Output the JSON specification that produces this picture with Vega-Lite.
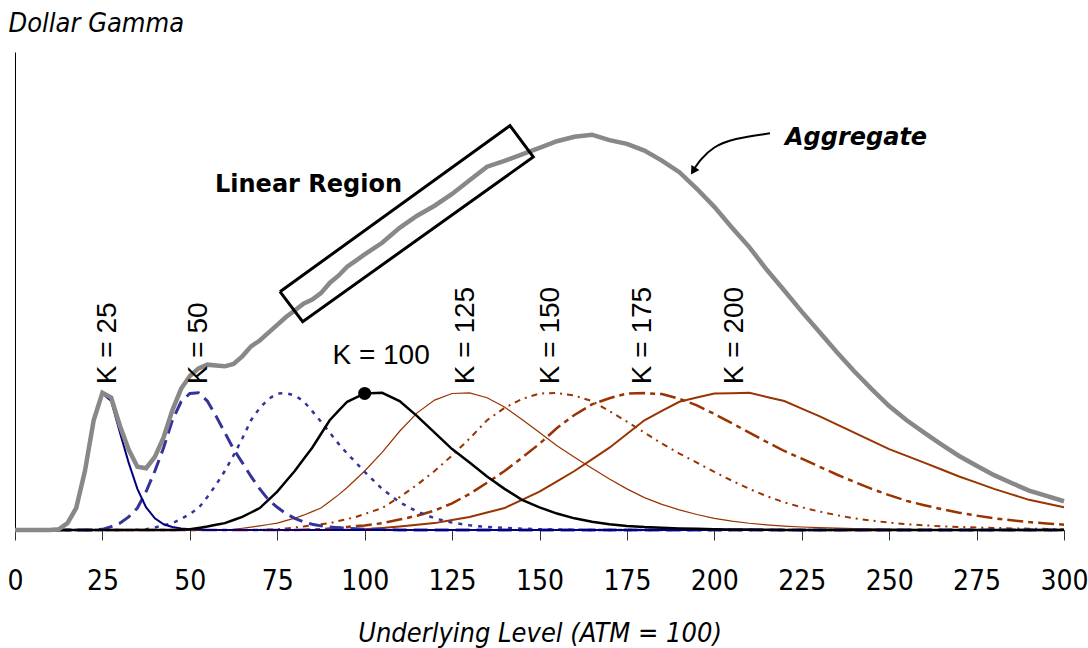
{
  "$schema": "https://vega.github.io/schema/vega-lite/v6.json",
  "width": 1049,
  "height": 478,
  "autosize": {"type": "none"},
  "padding": {"left": 15, "top": 52, "right": 24, "bottom": 118},
  "background": "white",
  "config": {"view": {"stroke": null}},
  "datasets": {
    "curves": [
      {"S":0,"K25":0,"K50":0,"K75":0,"K100":0,"K125":0,"K150":0,"K175":0,"K200":0,"Agg":0},
      {"S":2.5,"K25":0,"K50":0,"K75":0,"K100":0,"K125":0,"K150":0,"K175":0,"K200":0,"Agg":0},
      {"S":5,"K25":0,"K50":0,"K75":0,"K100":0,"K125":0,"K150":0,"K175":0,"K200":0,"Agg":0},
      {"S":7.5,"K25":0,"K50":0,"K75":0,"K100":0,"K125":0,"K150":0,"K175":0,"K200":0,"Agg":0},
      {"S":10,"K25":0,"K50":0,"K75":0,"K100":0,"K125":0,"K150":0,"K175":0,"K200":0,"Agg":0},
      {"S":12.5,"K25":0.14,"K50":0,"K75":0,"K100":0,"K125":0,"K150":0,"K175":0,"K200":0,"Agg":0.14},
      {"S":15,"K25":1.44,"K50":0,"K75":0,"K100":0,"K125":0,"K150":0,"K175":0,"K200":0,"Agg":1.44},
      {"S":17.5,"K25":4.59,"K50":0,"K75":0,"K100":0,"K125":0,"K150":0,"K175":0,"K200":0,"Agg":4.59},
      {"S":20,"K25":12.34,"K50":0,"K75":0,"K100":0,"K125":0,"K150":0,"K175":0,"K200":0,"Agg":12.34},
      {"S":22.5,"K25":22.96,"K50":0,"K75":0,"K100":0,"K125":0,"K150":0,"K175":0,"K200":0,"Agg":22.96},
      {"S":25,"K25":28.56,"K50":0.14,"K75":0,"K100":0,"K125":0,"K150":0,"K175":0,"K200":0,"Agg":28.7},
      {"S":27.5,"K25":26.98,"K50":0.72,"K75":0,"K100":0,"K125":0,"K150":0,"K175":0,"K200":0,"Agg":27.7},
      {"S":30,"K25":20.38,"K50":1.44,"K75":0,"K100":0,"K125":0,"K150":0,"K175":0,"K200":0,"Agg":21.82},
      {"S":32.5,"K25":14.1,"K50":2.73,"K75":0,"K100":0,"K125":0,"K150":0,"K175":0,"K200":0,"Agg":16.83},
      {"S":35,"K25":8.6,"K50":4.59,"K75":0.05,"K100":0,"K125":0,"K150":0,"K175":0,"K200":0,"Agg":13.24},
      {"S":37.5,"K25":4.74,"K50":8.04,"K75":0.14,"K100":0,"K125":0,"K150":0,"K175":0,"K200":0,"Agg":12.92},
      {"S":40,"K25":2.44,"K50":12.34,"K75":0.53,"K100":0,"K125":0,"K150":0,"K175":0,"K200":0,"Agg":15.31},
      {"S":42.5,"K25":1.21,"K50":17.22,"K75":0.96,"K100":0,"K125":0,"K150":0,"K175":0,"K200":0,"Agg":19.39},
      {"S":45,"K25":0.63,"K50":22.96,"K75":1.44,"K100":0,"K125":0,"K150":0,"K175":0,"K200":0,"Agg":25.03},
      {"S":47.5,"K25":0.34,"K50":26.83,"K75":2.3,"K100":0.07,"K125":0,"K150":0,"K175":0,"K200":0,"Agg":29.54},
      {"S":50,"K25":0.17,"K50":28.56,"K75":3.35,"K100":0.14,"K125":0,"K150":0,"K175":0,"K200":0,"Agg":32.22},
      {"S":52.5,"K25":0.09,"K50":28.7,"K75":4.59,"K100":0.43,"K125":0,"K150":0,"K175":0,"K200":0,"Agg":33.81},
      {"S":55,"K25":0,"K50":26.98,"K75":6.89,"K100":0.72,"K125":0,"K150":0,"K175":0,"K200":0,"Agg":34.59},
      {"S":57.5,"K25":0,"K50":23.82,"K75":9.47,"K100":1.08,"K125":0.03,"K150":0,"K175":0,"K200":0,"Agg":34.4},
      {"S":60,"K25":0,"K50":20.38,"K75":12.34,"K100":1.44,"K125":0.08,"K150":0,"K175":0,"K200":0,"Agg":34.24},
      {"S":62.5,"K25":0,"K50":16.93,"K75":15.59,"K100":2.09,"K125":0.14,"K150":0,"K175":0,"K200":0,"Agg":34.75},
      {"S":65,"K25":0,"K50":14.1,"K75":19.13,"K100":2.73,"K125":0.37,"K150":0,"K175":0,"K200":0,"Agg":36.33},
      {"S":67.5,"K25":0,"K50":11.2,"K75":22.96,"K100":3.66,"K125":0.6,"K150":0,"K175":0,"K200":0,"Agg":38.42},
      {"S":70,"K25":0,"K50":8.6,"K75":25.54,"K100":4.59,"K125":0.86,"K150":0.05,"K175":0,"K200":0,"Agg":39.64},
      {"S":72.5,"K25":0,"K50":6.31,"K75":27.41,"K100":6.32,"K125":1.15,"K150":0.09,"K175":0,"K200":0,"Agg":41.28},
      {"S":75,"K25":0,"K50":4.74,"K75":28.56,"K100":8.04,"K125":1.44,"K150":0.14,"K175":0,"K200":0,"Agg":42.92},
      {"S":77.5,"K25":0,"K50":3.44,"K75":28.65,"K100":10.19,"K125":1.96,"K150":0.33,"K175":0,"K200":0,"Agg":44.57},
      {"S":80,"K25":0,"K50":2.44,"K75":28.13,"K100":12.34,"K125":2.47,"K150":0.53,"K175":0.02,"K200":0,"Agg":45.93},
      {"S":82.5,"K25":0,"K50":1.72,"K75":26.98,"K100":14.78,"K125":3.1,"K150":0.72,"K175":0.06,"K200":0,"Agg":47.36},
      {"S":85,"K25":0,"K50":1.21,"K75":24.87,"K100":17.22,"K125":3.84,"K150":0.96,"K175":0.1,"K200":0,"Agg":48.2},
      {"S":87.5,"K25":0,"K50":0.86,"K75":22.67,"K100":20.09,"K125":4.59,"K150":1.2,"K175":0.14,"K200":0,"Agg":49.55},
      {"S":90,"K25":0,"K50":0.63,"K75":20.38,"K100":22.96,"K125":5.97,"K150":1.44,"K175":0.31,"K200":0,"Agg":51.69},
      {"S":92.5,"K25":0,"K50":0.49,"K75":18.08,"K100":24.9,"K125":7.35,"K150":1.87,"K175":0.47,"K200":0.04,"Agg":53.2},
      {"S":95,"K25":0,"K50":0.34,"K75":15.99,"K100":26.83,"K125":8.9,"K150":2.3,"K175":0.64,"K200":0.07,"Agg":55.07},
      {"S":97.5,"K25":0,"K50":0.26,"K75":14.1,"K100":27.7,"K125":10.62,"K150":2.73,"K175":0.82,"K200":0.11,"Agg":56.34},
      {"S":100,"K25":0,"K50":0.17,"K75":12.17,"K100":28.56,"K125":12.34,"K150":3.35,"K175":0.93,"K200":0.14,"Agg":57.66},
      {"S":105,"K25":0,"K50":0.09,"K75":8.6,"K100":28.7,"K125":16.24,"K150":4.59,"K175":1.44,"K200":0.43,"Agg":60.09},
      {"S":110,"K25":0,"K50":0,"K75":5.79,"K100":26.98,"K125":20.66,"K150":6.89,"K175":2.18,"K200":0.72,"Agg":63.22},
      {"S":115,"K25":0,"K50":0,"K75":3.87,"K100":23.82,"K125":24.51,"K150":9.47,"K175":2.99,"K200":1.08,"Agg":65.74},
      {"S":120,"K25":0,"K50":0,"K75":2.44,"K100":20.38,"K125":27.18,"K150":12.34,"K175":4.06,"K200":1.44,"Agg":67.84},
      {"S":125,"K25":0,"K50":0,"K75":1.55,"K100":16.93,"K125":28.56,"K150":15.59,"K175":5.58,"K200":2.09,"Agg":70.3},
      {"S":130,"K25":0,"K50":0,"K75":0.98,"K100":14.1,"K125":28.67,"K150":19.13,"K175":7.55,"K200":2.73,"Agg":73.16},
      {"S":135,"K25":0,"K50":0,"K75":0.63,"K100":11.2,"K125":27.67,"K150":22.96,"K175":9.88,"K200":3.66,"Agg":76},
      {"S":140,"K25":0,"K50":0,"K75":0.44,"K100":8.6,"K125":25.72,"K150":25.54,"K175":12.34,"K200":4.59,"Agg":77.23},
      {"S":145,"K25":0,"K50":0,"K75":0.28,"K100":6.31,"K125":23.13,"K150":27.41,"K175":15.13,"K200":6.32,"Agg":78.58},
      {"S":150,"K25":0,"K50":0,"K75":0.17,"K100":4.74,"K125":20.38,"K150":28.56,"K175":18.04,"K200":8.04,"Agg":79.93},
      {"S":155,"K25":0,"K50":0,"K75":0.11,"K100":3.44,"K125":17.62,"K150":28.65,"K175":21.32,"K200":10.19,"Agg":81.33},
      {"S":160,"K25":0,"K50":0,"K75":0.06,"K100":2.44,"K125":15.23,"K150":28.13,"K175":24.07,"K200":12.34,"Agg":82.27},
      {"S":165,"K25":0,"K50":0,"K75":0,"K100":1.72,"K125":12.94,"K150":26.98,"K175":26.28,"K200":14.78,"Agg":82.7},
      {"S":170,"K25":0,"K50":0,"K75":0,"K100":1.21,"K125":10.68,"K150":24.87,"K175":27.57,"K200":17.22,"Agg":81.55},
      {"S":175,"K25":0,"K50":0,"K75":0,"K100":0.86,"K125":8.6,"K150":22.67,"K175":28.56,"K200":20.09,"Agg":80.78},
      {"S":180,"K25":0,"K50":0,"K75":0,"K100":0.63,"K125":6.77,"K150":20.38,"K175":28.64,"K200":22.96,"Agg":79.38},
      {"S":185,"K25":0,"K50":0,"K75":0,"K100":0.49,"K125":5.37,"K150":18.08,"K175":28.45,"K200":24.9,"Agg":77.29},
      {"S":190,"K25":0,"K50":0,"K75":0,"K100":0.34,"K125":4.22,"K150":15.99,"K175":27.47,"K200":26.83,"Agg":74.85},
      {"S":195,"K25":0,"K50":0,"K75":0,"K100":0.26,"K125":3.24,"K150":14.1,"K175":26.08,"K200":27.7,"Agg":71.38},
      {"S":200,"K25":0,"K50":0,"K75":0,"K100":0.17,"K125":2.44,"K150":12.17,"K175":24.27,"K200":28.56,"Agg":67.61},
      {"S":205,"K25":0,"K50":0,"K75":0,"K100":0.13,"K125":1.86,"K150":10.33,"K175":22.34,"K200":28.63,"Agg":63.29},
      {"S":210,"K25":0,"K50":0,"K75":0,"K100":0.09,"K125":1.41,"K150":8.6,"K175":20.38,"K200":28.7,"Agg":59.18},
      {"S":215,"K25":0,"K50":0,"K75":0,"K100":0.04,"K125":1.07,"K150":7.07,"K175":18.41,"K200":27.84,"Agg":54.43},
      {"S":220,"K25":0,"K50":0,"K75":0,"K100":0,"K125":0.81,"K150":5.79,"K175":16.53,"K200":26.98,"Agg":50.11},
      {"S":225,"K25":0,"K50":0,"K75":0,"K100":0,"K125":0.63,"K150":4.74,"K175":14.91,"K200":25.4,"Agg":45.68},
      {"S":230,"K25":0,"K50":0,"K75":0,"K100":0,"K125":0.51,"K150":3.87,"K175":13.27,"K200":23.82,"Agg":41.47},
      {"S":235,"K25":0,"K50":0,"K75":0,"K100":0,"K125":0.4,"K150":3.11,"K175":11.61,"K200":22.1,"Agg":37.22},
      {"S":240,"K25":0,"K50":0,"K75":0,"K100":0,"K125":0.31,"K150":2.44,"K175":10.08,"K200":20.38,"Agg":33.21},
      {"S":245,"K25":0,"K50":0,"K75":0,"K100":0,"K125":0.24,"K150":1.96,"K175":8.6,"K200":18.66,"Agg":29.46},
      {"S":250,"K25":0,"K50":0,"K75":0,"K100":0,"K125":0.17,"K150":1.55,"K175":7.29,"K200":16.93,"Agg":25.94},
      {"S":255,"K25":0,"K50":0,"K75":0,"K100":0,"K125":0.14,"K150":1.21,"K175":6.09,"K200":15.52,"Agg":22.96},
      {"S":260,"K25":0,"K50":0,"K75":0,"K100":0,"K125":0.1,"K150":0.98,"K175":5.19,"K200":14.1,"Agg":20.37},
      {"S":265,"K25":0,"K50":0,"K75":0,"K100":0,"K125":0.07,"K150":0.78,"K175":4.37,"K200":12.65,"Agg":17.87},
      {"S":270,"K25":0,"K50":0,"K75":0,"K100":0,"K125":0.03,"K150":0.63,"K175":3.63,"K200":11.2,"Agg":15.49},
      {"S":275,"K25":0,"K50":0,"K75":0,"K100":0,"K125":0,"K150":0.53,"K175":3.01,"K200":9.9,"Agg":13.44},
      {"S":280,"K25":0,"K50":0,"K75":0,"K100":0,"K125":0,"K150":0.44,"K175":2.44,"K200":8.6,"Agg":11.48},
      {"S":285,"K25":0,"K50":0,"K75":0,"K100":0,"K125":0,"K150":0.34,"K175":2.03,"K200":7.46,"Agg":9.83},
      {"S":290,"K25":0,"K50":0,"K75":0,"K100":0,"K125":0,"K150":0.28,"K175":1.65,"K200":6.31,"Agg":8.24},
      {"S":295,"K25":0,"K50":0,"K75":0,"K100":0,"K125":0,"K150":0.23,"K175":1.36,"K200":5.53,"Agg":7.12},
      {"S":300,"K25":0,"K50":0,"K75":0,"K100":0,"K125":0,"K150":0.17,"K175":1.11,"K200":4.74,"Agg":6.02}
    ],
    "box": [
      {"order":1,"S":75.78,"v":49.85},
      {"order":2,"S":82.27,"v":43.58},
      {"order":3,"S":148.22,"v":78.05},
      {"order":4,"S":141.55,"v":84.59},
      {"order":5,"S":75.78,"v":49.85}
    ],
    "arrow": [
      {"order":1,"S":215.9,"v":83.0},
      {"order":2,"S":205.4,"v":81.9},
      {"order":3,"S":199.7,"v":80.2},
      {"order":4,"S":195.9,"v":77.4},
      {"order":5,"S":194.4,"v":75.7}
    ],
    "arrowhead": [{"S":193.96,"v":75.1}],
    "dot": [{"S":100,"v":28.56}],
    "vlabels": [
      {"S":26.5,"v":30.5,"label":"K = 25"},
      {"S":52.5,"v":30.5,"label":"K = 50"},
      {"S":129,"v":30.5,"label":"K = 125"},
      {"S":153.3,"v":30.5,"label":"K = 150"},
      {"S":179.5,"v":30.5,"label":"K = 175"},
      {"S":206,"v":30.5,"label":"K = 200"}
    ],
    "hlabel": [{"S":104.7,"v":34.7,"label":"K = 100"}],
    "linear": [{"S":57.2,"v":70.7,"label":"Linear Region"}],
    "agglabel": [{"S":220.2,"v":80.5,"label":"Aggregate"}]
  },
  "encoding": {
    "x": {"field": "S", "type": "quantitative", "scale": {"domain": [0, 300], "nice": false, "zero": false},
      "axis": {"values": [0,25,50,75,100,125,150,175,200,225,250,275,300], "grid": false, "domain": true, "domainColor": "#000000", "domainWidth": 1,
        "ticks": true, "tickSize": 10, "tickColor": "#333333", "tickWidth": 1,
        "labelFont": "DejaVu Sans Condensed", "labelFontSize": 28, "labelColor": "#000000", "labelBaseline": "alphabetic", "labelPadding": 49, "labelFlush": false, "labelOverlap": false,
        "title": "Underlying Level (ATM = 100)", "titleFont": "DejaVu Sans Condensed", "titleFontStyle": "italic", "titleFontWeight": "normal", "titleFontSize": 27, "titleColor": "#000000",
        "titleBaseline": "alphabetic", "titleY": 111, "titleAnchor": "middle"}},
    "y": {"field": "v", "type": "quantitative", "scale": {"domain": [0, 100], "nice": false},
      "axis": {"grid": false, "ticks": false, "labels": false, "domain": true, "domainColor": "#000000", "domainWidth": 1,
        "title": "Dollar Gamma", "titleAngle": 0, "titleAlign": "left", "titleBaseline": "alphabetic", "titleX": -7, "titleY": -21,
        "titleFont": "DejaVu Sans Condensed", "titleFontStyle": "italic", "titleFontWeight": "normal", "titleFontSize": 27, "titleColor": "#000000"}}
  },
  "layer": [
    {
      "data": {"name": "curves"},
      "transform": [{"fold": ["K200"], "as": ["curve", "v"]}],
      "mark": {"type": "line", "color": "#993300", "strokeWidth": 2}
    },
    {
      "data": {"name": "curves"},
      "transform": [{"fold": ["K175"], "as": ["curve", "v"]}],
      "mark": {"type": "line", "color": "#993300", "strokeWidth": 2.5, "strokeDash": [16, 5, 5, 5]}
    },
    {
      "data": {"name": "curves"},
      "transform": [{"fold": ["K150"], "as": ["curve", "v"]}],
      "mark": {"type": "line", "color": "#993300", "strokeWidth": 2, "strokeDash": [6, 5, 2, 5]}
    },
    {
      "data": {"name": "curves"},
      "transform": [{"fold": ["K125"], "as": ["curve", "v"]}],
      "mark": {"type": "line", "color": "#993300", "strokeWidth": 1.2}
    },
    {
      "data": {"name": "curves"},
      "transform": [{"fold": ["K75"], "as": ["curve", "v"]}],
      "mark": {"type": "line", "color": "#333399", "strokeWidth": 2.5, "strokeDash": [4, 6]}
    },
    {
      "data": {"name": "curves"},
      "transform": [{"fold": ["K50"], "as": ["curve", "v"]}],
      "mark": {"type": "line", "color": "#333399", "strokeWidth": 3, "strokeDash": [14, 7]}
    },
    {
      "data": {"name": "curves"},
      "transform": [{"fold": ["K25"], "as": ["curve", "v"]}],
      "mark": {"type": "line", "color": "#000080", "strokeWidth": 2}
    },
    {
      "data": {"name": "curves"},
      "transform": [{"fold": ["K100"], "as": ["curve", "v"]}],
      "mark": {"type": "line", "color": "#000000", "strokeWidth": 2.5}
    },
    {
      "data": {"name": "curves"},
      "transform": [{"fold": ["Agg"], "as": ["curve", "v"]}],
      "mark": {"type": "line", "color": "#888888", "strokeWidth": 4.5}
    },
    {
      "data": {"name": "box"},
      "mark": {"type": "line", "color": "#000000", "strokeWidth": 3, "strokeJoin": "miter"},
      "encoding": {"order": {"field": "order"}}
    },
    {
      "data": {"name": "arrow"},
      "mark": {"type": "line", "color": "#000000", "strokeWidth": 2, "interpolate": "basis"},
      "encoding": {"order": {"field": "order"}}
    },
    {
      "data": {"name": "arrowhead"},
      "mark": {"type": "point", "shape": "triangle-up", "filled": true, "color": "#000000", "opacity": 1, "size": 90, "angle": 212}
    },
    {
      "data": {"name": "dot"},
      "mark": {"type": "point", "shape": "circle", "filled": true, "color": "#000000", "opacity": 1, "size": 170}
    },
    {
      "data": {"name": "vlabels"},
      "mark": {"type": "text", "angle": 270, "align": "left", "baseline": "middle", "font": "Liberation Sans", "fontSize": 28, "color": "#000000"},
      "encoding": {"text": {"field": "label"}}
    },
    {
      "data": {"name": "hlabel"},
      "mark": {"type": "text", "align": "center", "baseline": "alphabetic", "font": "Liberation Sans", "fontSize": 28, "color": "#000000"},
      "encoding": {"text": {"field": "label"}}
    },
    {
      "data": {"name": "linear"},
      "mark": {"type": "text", "align": "left", "baseline": "alphabetic", "font": "DejaVu Sans", "fontWeight": "bold", "fontSize": 24, "color": "#000000"},
      "encoding": {"text": {"field": "label"}}
    },
    {
      "data": {"name": "agglabel"},
      "mark": {"type": "text", "align": "left", "baseline": "alphabetic", "font": "DejaVu Sans", "fontWeight": "bold", "fontStyle": "italic", "fontSize": 24, "color": "#000000"},
      "encoding": {"text": {"field": "label"}}
    }
  ]
}
